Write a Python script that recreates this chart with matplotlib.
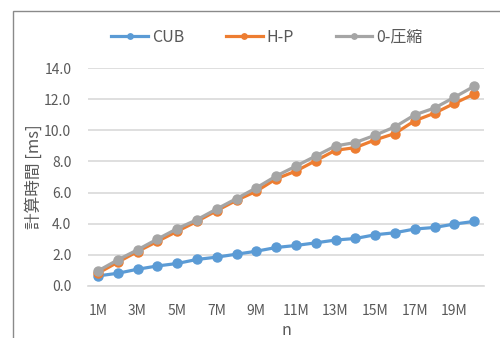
import matplotlib
matplotlib.use("Agg")
import matplotlib.pyplot as plt
from matplotlib.patches import Rectangle

plt.rcParams['font.family'] = ['Noto Sans CJK JP', 'DejaVu Sans']

categories = [f"{i}M" for i in range(1, 21)]
cub = [0.63, 0.80, 1.06, 1.27, 1.43, 1.69, 1.84, 2.03, 2.22, 2.46,
       2.59, 2.76, 2.94, 3.04, 3.28, 3.41, 3.65, 3.75, 3.97, 4.14]
hp = [0.80, 1.51, 2.20, 2.85, 3.50, 4.14, 4.83, 5.50, 6.08, 6.88,
      7.38, 8.05, 8.72, 8.89, 9.39, 9.80, 10.62, 11.11, 11.74, 12.34]
zero = [0.95, 1.66, 2.31, 3.00, 3.67, 4.25, 4.94, 5.61, 6.30, 7.06,
        7.70, 8.35, 9.00, 9.22, 9.69, 10.23, 11.00, 11.44, 12.13, 12.84]
yticks = [0, 2, 4, 6, 8, 10, 12, 14]

txt = '#595959'
fig = plt.figure(figsize=(5, 3.38), dpi=100)
fig.patches.append(Rectangle((13/500, -0.1), 1.2, 1.1 - 11/338,
                             transform=fig.transFigure, fill=False,
                             edgecolor='#8a8a8a', linewidth=1.0))
ax = fig.add_axes([88/500, 1 - 285.7/338, (484-88)/500, (285.7-68.3)/338])

x = list(range(len(categories)))
series = [(cub, '#5B9BD5', 'CUB'), (hp, '#ED7D31', 'H-P'), (zero, '#A5A5A5', '0-圧縮')]
for vals, c, lab in series:
    ax.plot(x, vals, color=c, linewidth=2.3, marker='o', markersize=6.5, label=lab)

ax.set_xlim(-0.5, len(categories) - 0.5)
ax.set_ylim(0, 14)
ax.set_yticks(yticks)
ax.set_yticklabels([f"{v:.1f}" for v in yticks])
ax.set_xticks(x[::2])
ax.set_xticklabels(categories[::2])
ax.tick_params(axis='y', length=0, labelsize=10, colors=txt, pad=12)
ax.tick_params(axis='x', length=0, labelsize=10, colors=txt, pad=13)
ax.grid(axis='y', color='#D9D9D9', linewidth=1.2)
ax.set_axisbelow(True)
for s in ['top', 'right', 'left']:
    ax.spines[s].set_visible(False)
ax.spines['bottom'].set_color('#D9D9D9')
ax.spines['bottom'].set_linewidth(1.2)
ax.set_xlabel('n', fontsize=11.5, color=txt, labelpad=3)
ax.set_ylabel('計算時間 [ms]', fontsize=12, color=txt, labelpad=1)

handles, labels = ax.get_legend_handles_labels()
leg = fig.legend(handles, labels, loc='center', bbox_to_anchor=(267/500, 1 - 37/338),
                 ncol=3, frameon=False, fontsize=11.5, handlelength=2.3,
                 handletextpad=0.25, columnspacing=2.6, markerscale=0.6)
for t in leg.get_texts():
    t.set_color(txt)

fig.savefig('out.png', dpi=100)
